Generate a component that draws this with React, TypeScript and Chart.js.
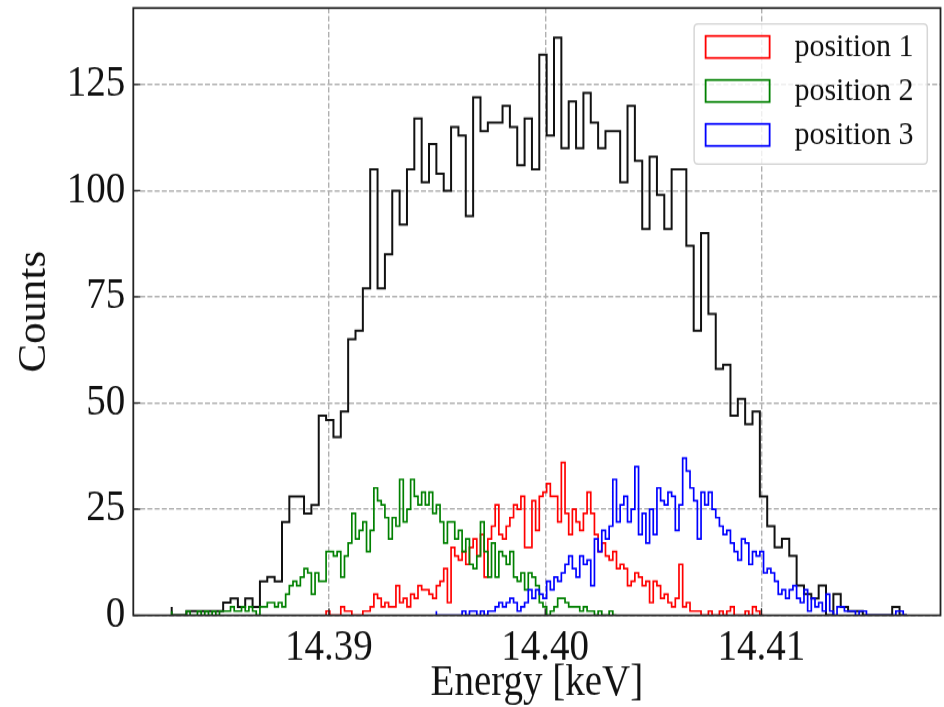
import { useEffect, useRef } from 'react';
import { Chart, registerables } from 'chart.js';

Chart.register(...registerables);

// Total spectrum: 100 bins starting at TOTAL_START, width TOTAL_BIN (keV)
const TOTAL_START = 14.382726;
const TOTAL_BIN = 0.00034;
const totalCounts = [
  2, 0, 0, 1, 1, 1, 1, 1, 3, 4,
  2, 4, 2, 8, 9, 8, 22, 28, 28, 24,
  26, 47, 46, 42, 48, 65, 67, 77, 105, 77,
  85, 100, 92, 105, 117, 102, 111, 104, 100, 115,
  113, 94, 122, 114, 116, 116, 120, 115, 106, 117,
  105, 132, 113, 136, 110, 121, 110, 123, 116, 110,
  114, 114, 102, 120, 107, 91, 108, 99, 91, 105,
  105, 87, 67, 90, 71, 58, 59, 47, 51, 45,
  48, 28, 21, 16, 18, 14, 7, 5, 4, 7,
  0, 5, 2, 1, 1, 0, 0, 0, 0, 2,
];

// Per-position spectra on a finer grid (half the total bin width),
// each listed from its first bin index on that grid.
const FINE_BIN = 0.00017;

const pos1FirstBin = 42;
const pos1Counts = [
  1, 1, 0, 0, 0, 2, 1, 1, 0, 0,
  0, 1, 1, 2, 5, 4, 2, 3, 2, 2,
  7, 3, 4, 2, 5, 4, 7, 6, 6, 5,
  4, 7, 8, 11, 3, 16, 14, 13, 15, 12,
  16, 18, 14, 19, 9, 18, 21, 26, 19, 18,
  21, 23, 26, 25, 28, 16, 16, 27, 20, 28,
  29, 31, 28, 28, 22, 36, 24, 19, 25, 22,
  20, 24, 29, 24, 19, 15, 17, 14, 13, 15,
  11, 12, 11, 7, 8, 10, 9, 7, 8, 3,
  8, 7, 4, 5, 3, 2, 4, 12, 2, 3,
  1, 1, 1, 0, 0, 1, 0, 0, 1, 0,
  1, 2, 0, 0, 0, 1, 0, 2, 1,
];

const pos2FirstBin = 0;
const pos2Counts = [
  1, 0, 0, 0, 0, 1, 0, 0, 1, 0,
  1, 0, 1, 0, 1, 1, 1, 2, 1, 1,
  2, 1, 2, 1, 0, 2, 2, 3, 3, 2,
  3, 2, 5, 7, 8, 7, 9, 11, 10, 5,
  10, 8, 8, 15, 15, 14, 15, 9, 14, 17,
  24, 18, 20, 22, 15, 20, 30, 27, 26, 23,
  18, 23, 21, 32, 22, 25, 32, 28, 26, 29,
  26, 29, 24, 26, 22, 17, 22, 22, 18, 20,
  15, 18, 12, 11, 14, 22, 15, 9, 17, 9,
  15, 14, 12, 15, 9, 8, 10, 6, 10, 9,
  7, 3, 2, 0, 1, 2, 4, 4, 3, 2,
  2, 2, 1, 2, 1, 1, 0, 1, 0, 0,
  1,
];

const pos3FirstBin = 72;
const pos3Counts = [
  1, 0, 0, 0, 0, 0, 0, 0, 1, 0,
  1, 1, 0, 1, 0, 1, 1, 2, 3, 2,
  3, 4, 3, 1, 2, 3, 6, 4, 6, 5,
  4, 8, 6, 9, 8, 10, 12, 14, 11, 9,
  14, 12, 13, 7, 18, 15, 20, 18, 21, 32,
  22, 26, 28, 22, 25, 35, 19, 24, 17, 25,
  19, 30, 27, 26, 29, 28, 20, 26, 37, 34,
  30, 27, 18, 29, 26, 29, 25, 23, 21, 19,
  20, 17, 15, 13, 18, 17, 12, 15, 14, 15,
  10, 11, 10, 8, 5, 6, 4, 6, 7, 4,
  3, 6, 1, 4, 2, 3, 1, 5, 1, 0,
  2, 2, 1, 1, 1, 0, 1, 1, 0, 0,
  0, 0, 0, 0, 0, 0, 1, 1,
];

const legendLabels = ['position 1', 'position 2', 'position 3'];
const seriesColors = ['#ff0000', '#008000', '#0000ff'];

const xTickValues = [14.39, 14.4, 14.41];
const yTickValues = [0, 25, 50, 75, 100, 125];
const X_MIN = 14.38095;
const X_MAX = 14.41828;
const Y_MAX = 143;

const SERIF = '"Liberation Serif", "Times New Roman", Times, serif';
const TEXT_COLOR = '#111111';

// Canvas is rendered at a shorter height and displayed taller (vertical stretch)
const CANVAS_W = 944;
const CANVAS_H = 643;
const DISPLAY_H = 707;

// Outline of a step histogram: up from the baseline, across every bin, back down.
function stepOutline(start: number, width: number, counts: number[]) {
  const pts: { x: number; y: number }[] = [{ x: start, y: 0 }];
  counts.forEach((c, i) => pts.push({ x: start + i * width, y: c }));
  pts.push({ x: start + counts.length * width, y: 0 });
  return pts;
}

const frameAndLegend = {
  id: 'frameAndLegend',
  afterDatasetsDraw(chart: any) {
    const { ctx, chartArea: a, scales } = chart;
    ctx.save();

    // inward tick marks
    ctx.strokeStyle = '#222222';
    ctx.lineWidth = 1.3;
    ctx.setLineDash([]);
    for (const v of yTickValues) {
      const py = scales.y.getPixelForValue(v);
      ctx.beginPath();
      ctx.moveTo(a.left, py);
      ctx.lineTo(a.left + 7, py);
      ctx.stroke();
    }
    for (const v of xTickValues) {
      const px = scales.x.getPixelForValue(v);
      ctx.beginPath();
      ctx.moveTo(px, a.bottom);
      ctx.lineTo(px, a.bottom - 6.4);
      ctx.stroke();
    }

    // axes frame
    ctx.lineWidth = 1.8;
    ctx.strokeRect(a.left, a.top, a.right - a.left, a.bottom - a.top);

    // legend box in the upper right corner
    const items = chart.data.datasets.filter((d: any) => d.inLegend);
    ctx.font = `30px ${SERIF}`;
    const maxW = Math.max(...items.map((d: any) => ctx.measureText(d.label).width));
    const boxW = 100 + maxW + 14;
    const boxH = 127.4;
    const bx = a.right - 13.2 - boxW;
    const by = a.top + 14.5;
    const r = 4;
    ctx.beginPath();
    ctx.moveTo(bx + r, by);
    ctx.lineTo(bx + boxW - r, by);
    ctx.quadraticCurveTo(bx + boxW, by, bx + boxW, by + r);
    ctx.lineTo(bx + boxW, by + boxH - r);
    ctx.quadraticCurveTo(bx + boxW, by + boxH, bx + boxW - r, by + boxH);
    ctx.lineTo(bx + r, by + boxH);
    ctx.quadraticCurveTo(bx, by + boxH, bx, by + boxH - r);
    ctx.lineTo(bx, by + r);
    ctx.quadraticCurveTo(bx, by, bx + r, by);
    ctx.closePath();
    ctx.fillStyle = 'rgba(255,255,255,0.8)';
    ctx.fill();
    ctx.strokeStyle = 'rgba(204,204,204,0.8)';
    ctx.lineWidth = 1.5;
    ctx.stroke();

    items.forEach((d: any, i: number) => {
      const cy = by + 20.9 + i * 40;
      ctx.strokeStyle = d.borderColor;
      ctx.lineWidth = 1.8;
      ctx.strokeRect(bx + 11.5, cy - 10, 64, 20);
      ctx.fillStyle = TEXT_COLOR;
      ctx.textAlign = 'left';
      ctx.textBaseline = 'middle';
      ctx.fillText(d.label, bx + 100.3, cy);
    });

    ctx.restore();
  },
};

export default function App() {
  const canvasRef = useRef<HTMLCanvasElement | null>(null);

  useEffect(() => {
    const canvas = canvasRef.current;
    if (!canvas) return;

    const perPosition = [
      { first: pos1FirstBin, counts: pos1Counts },
      { first: pos2FirstBin, counts: pos2Counts },
      { first: pos3FirstBin, counts: pos3Counts },
    ];

    const datasets: any[] = [
      {
        label: 'total',
        data: stepOutline(TOTAL_START, TOTAL_BIN, totalCounts),
        borderColor: '#111111',
        borderWidth: 2,
        stepped: 'after',
        pointRadius: 0,
        fill: false,
        order: 4,
        inLegend: false,
      },
      ...perPosition.map((p, i) => ({
        label: legendLabels[i],
        data: stepOutline(TOTAL_START + p.first * FINE_BIN, FINE_BIN, p.counts),
        borderColor: seriesColors[i],
        borderWidth: 1.7,
        stepped: 'after',
        pointRadius: 0,
        fill: false,
        order: 3 - i,
        inLegend: true,
      })),
    ];

    const gridDash = [5, 2.2];

    const chart = new Chart(canvas, {
      type: 'line',
      data: { datasets },
      options: {
        animation: false,
        responsive: false,
        maintainAspectRatio: false,
        devicePixelRatio: 1,
        events: [],
        layout: { padding: { left: 0, right: 3.5, top: 7.3, bottom: 0 } },
        plugins: {
          legend: { display: false },
          tooltip: { enabled: false },
        },
        scales: {
          x: {
            type: 'linear',
            min: X_MIN,
            max: X_MAX,
            afterBuildTicks: (scale: any) => {
              scale.ticks = xTickValues.map((v) => ({ value: v }));
            },
            afterFit: (scale: any) => {
              scale.height = 83.4;
              scale.paddingLeft = 0;
              scale.paddingRight = 0;
            },
            ticks: {
              padding: 7,
              color: TEXT_COLOR,
              font: { family: SERIF, size: 39 },
              callback: (v: any) => Number(v).toFixed(2),
            },
            grid: { color: '#b0b0b0', lineWidth: 1.4, drawTicks: false },
            border: { display: false, dash: gridDash },
            title: {
              display: true,
              text: 'Energy [keV]',
              color: TEXT_COLOR,
              font: { family: SERIF, size: 39, lineHeight: 1 },
              padding: { top: 0, bottom: 2 },
            },
          },
          y: {
            type: 'linear',
            min: 0,
            max: Y_MAX,
            afterBuildTicks: (scale: any) => {
              scale.ticks = yTickValues.map((v) => ({ value: v }));
            },
            afterFit: (scale: any) => {
              scale.width = 133.3;
              scale.paddingTop = 0;
              scale.paddingBottom = 0;
            },
            ticks: {
              padding: 8,
              color: TEXT_COLOR,
              font: { family: SERIF, size: 39 },
              callback: (v: any) => String(v),
            },
            grid: { color: '#b0b0b0', lineWidth: 1.4, drawTicks: false },
            border: { display: false, dash: gridDash },
            title: {
              display: true,
              text: 'Counts',
              color: TEXT_COLOR,
              font: { family: SERIF, size: 39, lineHeight: 1 },
              padding: { top: 15.5, bottom: 0 },
            },
          },
        },
      },
      plugins: [frameAndLegend],
    } as any);

    return () => chart.destroy();
  }, []);

  return (
    <div style={{ position: 'fixed', left: 0, top: 0, width: CANVAS_W, height: DISPLAY_H, background: '#ffffff' }}>
      <canvas
        ref={canvasRef}
        width={CANVAS_W}
        height={CANVAS_H}
        style={{ display: 'block', width: `${CANVAS_W}px`, height: `${DISPLAY_H}px` }}
      />
    </div>
  );
}
